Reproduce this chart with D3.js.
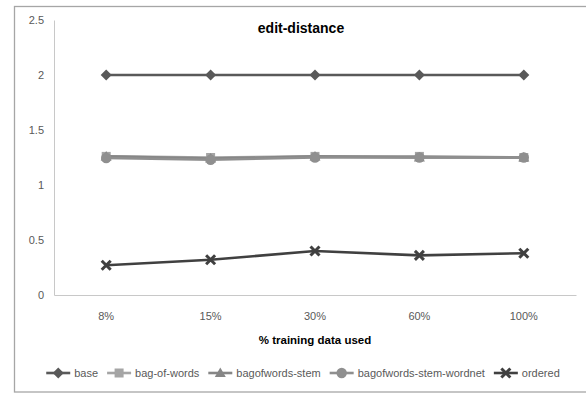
<!DOCTYPE html>
<html>
<head>
<meta charset="utf-8">
<script src="https://cdn.jsdelivr.net/npm/d3@7"></script>
<style>
  html, body { margin: 0; padding: 0; background: #fff; }
  svg { display: block; font-family: "Liberation Sans", Arial, sans-serif; }
</style>
</head>
<body>
<svg id="chart" width="586" height="395"></svg>
<script>
// Training-set fractions on the x axis
const categories = ["8%", "15%", "30%", "60%", "100%"];

// Edit-distance scores per method
const base = [2, 2, 2, 2, 2];
const bagOfWords = [1.26, 1.25, 1.26, 1.26, 1.25];
const bagofwordsStem = [1.26, 1.24, 1.26, 1.25, 1.25];
const bagofwordsStemWordnet = [1.245, 1.23, 1.25, 1.25, 1.25];
const ordered = [0.27, 0.32, 0.40, 0.36, 0.38];

const yTicks = [0, 0.5, 1, 1.5, 2, 2.5];
const yTickLabels = ["0", "0.5", "1", "1.5", "2", "2.5"];

const series = [
  { name: "base", values: base, color: "#595959", marker: "diamond" },
  { name: "bag-of-words", values: bagOfWords, color: "#a5a5a5", marker: "square" },
  { name: "bagofwords-stem", values: bagofwordsStem, color: "#868686", marker: "triangle" },
  { name: "bagofwords-stem-wordnet", values: bagofwordsStemWordnet, color: "#8f8f8f", marker: "circle" },
  { name: "ordered", values: ordered, color: "#404040", marker: "cross" }
];

const svg = d3.select("#chart");

// Outer chart frame
svg.append("rect")
  .attr("x", 14.5).attr("y", 6.5)
  .attr("width", 590).attr("height", 385.5)
  .attr("fill", "none").attr("stroke", "#a6a6a6").attr("stroke-width", 1.3);

const plot = { left: 54, right: 576, top: 20, bottom: 295 };

const x = d3.scaleBand().domain(categories).range([plot.left, plot.right]);
const y = d3.scaleLinear().domain([0, 2.5]).range([plot.bottom, plot.top]);

// Y axis
const yAxis = d3.axisLeft(y).tickValues(yTicks)
  .tickFormat((d, i) => yTickLabels[i]).tickSize(0).tickPadding(10);
const gy = svg.append("g").attr("transform", `translate(${plot.left},0)`).call(yAxis);
gy.select(".domain").attr("stroke", "#c8c8c8");
gy.selectAll("text").attr("fill", "#595959").style("font-size", "11px")
  .style("font-family", "Liberation Sans, Arial, sans-serif");

// X axis
const xAxis = d3.axisBottom(x).tickSize(0).tickPadding(17);
const gx = svg.append("g").attr("transform", `translate(0,${plot.bottom})`).call(xAxis);
gx.select(".domain").attr("stroke", "#c8c8c8");
gx.selectAll("text").attr("fill", "#595959").style("font-size", "11px")
  .style("font-family", "Liberation Sans, Arial, sans-serif");

// Title and axis title
svg.append("text")
  .attr("x", 301).attr("y", 33).attr("text-anchor", "middle")
  .attr("font-weight", "bold").attr("font-size", 14).attr("fill", "#000")
  .text("edit-distance");

svg.append("text")
  .attr("x", 315).attr("y", 344).attr("text-anchor", "middle")
  .attr("font-weight", "bold").attr("font-size", 11.5).attr("fill", "#000")
  .text("% training data used");

const cx = d => x(d) + x.bandwidth() / 2;

function drawMarker(g, type, color, px, py) {
  if (type === "diamond") {
    g.append("path").attr("d", `M${px},${py - 5.5}L${px + 5.5},${py}L${px},${py + 5.5}L${px - 5.5},${py}Z`)
      .attr("fill", color);
  } else if (type === "square") {
    g.append("rect").attr("x", px - 4.5).attr("y", py - 4.5).attr("width", 9).attr("height", 9)
      .attr("fill", color);
  } else if (type === "triangle") {
    g.append("path").attr("d", `M${px},${py - 5.5}L${px + 5.5},${py + 4}L${px - 5.5},${py + 4}Z`)
      .attr("fill", color);
  } else if (type === "circle") {
    g.append("circle").attr("cx", px).attr("cy", py).attr("r", 5.2).attr("fill", color);
  } else if (type === "cross") {
    g.append("path").attr("d", `M${px - 4.5},${py - 4.5}L${px + 4.5},${py + 4.5}M${px - 4.5},${py + 4.5}L${px + 4.5},${py - 4.5}`)
      .attr("stroke", color).attr("stroke-width", 3).attr("fill", "none");
  }
}

const line = d3.line().x(d => cx(d.c)).y(d => y(d.v));

series.forEach(s => {
  const pts = categories.map((c, i) => ({ c, v: s.values[i] }));
  const g = svg.append("g");
  g.append("path").datum(pts).attr("d", line)
    .attr("fill", "none").attr("stroke", s.color).attr("stroke-width", 2.6);
  pts.forEach(p => drawMarker(g, s.marker, s.color, cx(p.c), y(p.v)));
});

// Legend
const legend = svg.append("g");
const legY = 373;
const lineLen = 24;
let items = [];
let total = 0;
series.forEach((s, i) => {
  const t = legend.append("text").attr("y", legY + 4).attr("font-size", 11)
    .attr("fill", "#595959").text(s.name);
  const w = t.node().getComputedTextLength();
  items.push({ s, t, w });
  total += lineLen + 4 + w + (i < series.length - 1 ? 9 : 0);
});
let lx = 303 - total / 2;
items.forEach(({ s, t, w }) => {
  legend.append("line").attr("x1", lx).attr("x2", lx + lineLen)
    .attr("y1", legY).attr("y2", legY).attr("stroke", s.color).attr("stroke-width", 2.6);
  drawMarker(legend, s.marker, s.color, lx + lineLen / 2, legY);
  t.attr("x", lx + lineLen + 4);
  lx += lineLen + 4 + w + 9;
});
</script>
</body>
</html>
